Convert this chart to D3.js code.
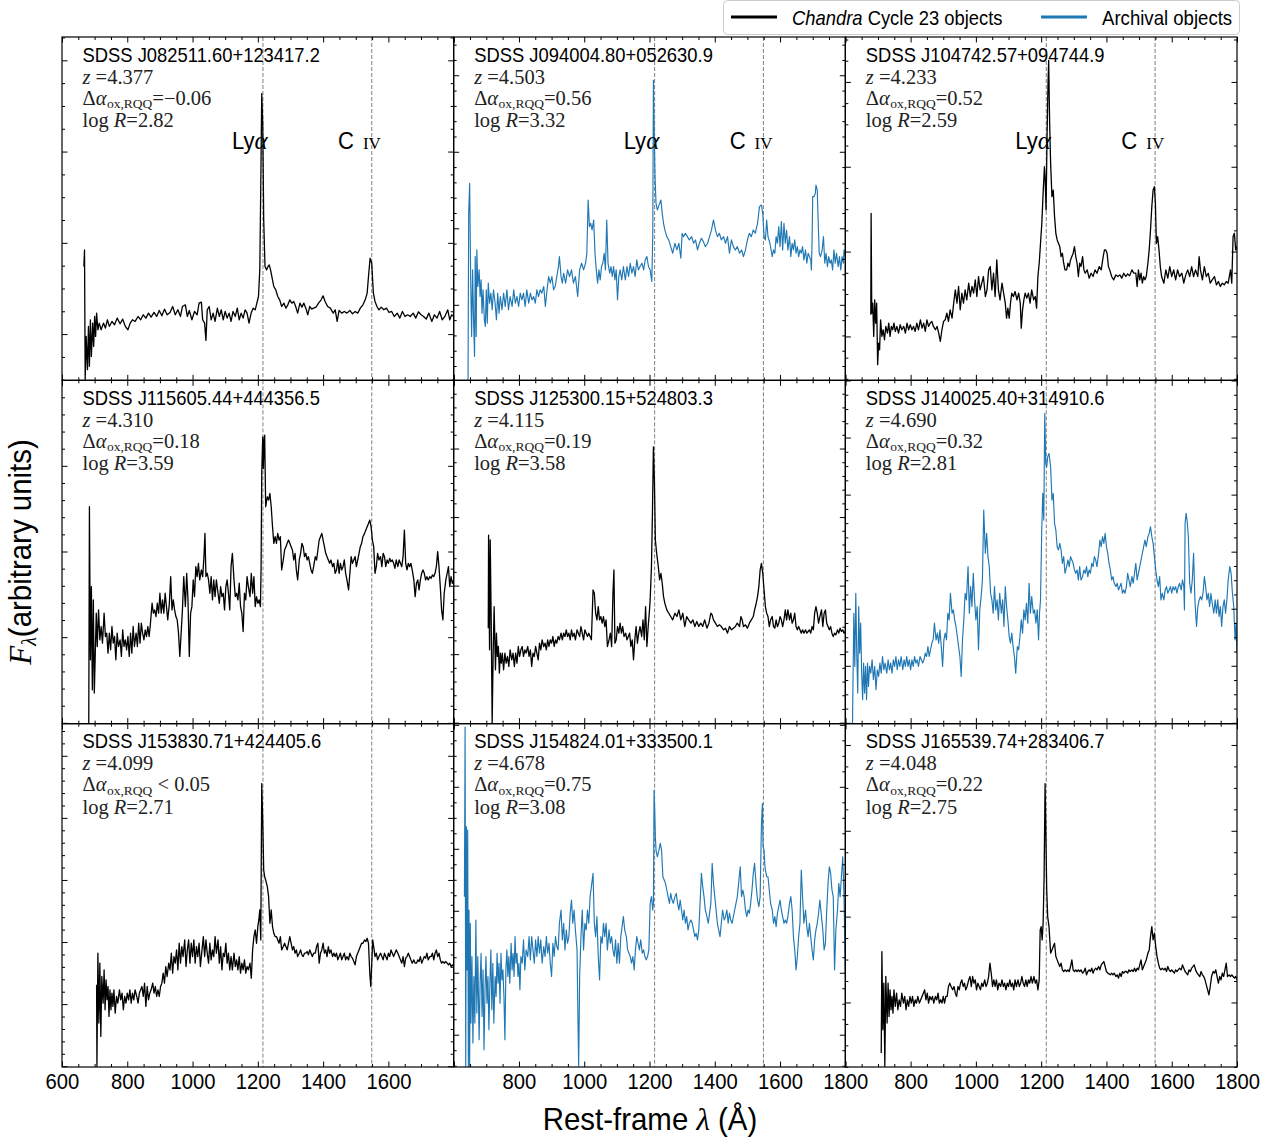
<!DOCTYPE html>
<html>
<head>
<meta charset="utf-8">
<script src="https://cdn.jsdelivr.net/npm/d3@7"></script>
<style>
  body { margin: 0; background: #fff; }
  text { white-space: pre; }
</style>
</head>
<body>
<svg id="chart" width="1279" height="1139"></svg>
<script>
// ---- Quasar sample: names and measured properties (panel order, row by row) ----
const objectNames = [
  "SDSS J082511.60+123417.2", "SDSS J094004.80+052630.9", "SDSS J104742.57+094744.9",
  "SDSS J115605.44+444356.5", "SDSS J125300.15+524803.3", "SDSS J140025.40+314910.6",
  "SDSS J153830.71+424405.6", "SDSS J154824.01+333500.1", "SDSS J165539.74+283406.7"
];
const redshifts = ["4.377", "4.503", "4.233", "4.310", "4.115", "4.690", "4.099", "4.678", "4.048"];
const deltaAlphaOx = ["=\u22120.06", "=0.56", "=0.52", "=0.18", "=0.19", "=0.32", " < 0.05", "=0.75", "=0.22"];
const logRadioLoudness = ["2.82", "3.32", "2.59", "3.59", "3.58", "2.81", "2.71", "3.08", "2.75"];
const isArchival = [false, true, false, false, false, true, false, true, false];

// emission lines marked in every panel (rest-frame Angstrom)
const lineWavelengths = [1215.67, 1549.06];

// axis ranges and tick labels
const lambdaRange = [600, 1800];
const fluxMax = 1032;
const xTickLabelsFirstCol = [600, 800, 1000, 1200, 1400, 1600];
const xTickLabelsOtherCols = [800, 1000, 1200, 1400, 1600, 1800];
// unlabelled flux ticks per panel: first major, major spacing, minor divisions
const yMajorStart = [139, 227, 132, 260, 209, 174, 189, 97, 194];
const yMajorStep = [274.3, 230, 255, 257.5, 206, 171.5, 186.6, 186.3, 258];
const yMinorPerMajor = [4, 5, 4, 5, 5, 4, 5, 4, 4];

// ---- Spectra: [rest-frame wavelength (A), F_lambda (arbitrary units)] ----
const specJ0825 = [[667,342],[669,392],[671,2],[674,132],[678,32],[681,162],[684,42],[687,182],[690,72],[694,172],[697,102],[700,192],[703,132],[706,202],[710,152],[714,172],[720,152],[727,172],[733,157],[739,182],[745,162],[753,177],[761,167],[769,187],[778,170],[786,184],[794,162],[802,152],[809,172],[816,182],[824,177],[833,192],[841,182],[849,197],[857,187],[865,202],[873,190],[882,204],[890,192],[898,210],[906,194],[914,214],[922,197],[931,204],[939,222],[947,197],[955,212],[963,192],[969,222],[978,227],[984,192],[990,210],[998,182],[1006,207],[1014,197],[1020,232],[1027,235],[1031,182],[1037,172],[1041,120],[1045,212],[1051,222],[1057,182],[1063,202],[1069,177],[1076,217],[1082,192],[1088,212],[1094,182],[1100,207],[1106,187],[1112,202],[1118,177],[1124,207],[1131,192],[1137,217],[1143,182],[1149,202],[1155,187],[1161,212],[1167,202],[1173,172],[1180,204],[1186,217],[1192,212],[1197,232],[1202,252],[1206,332],[1209,582],[1212,862],[1215,772],[1218,482],[1222,342],[1227,332],[1231,342],[1235,347],[1239,332],[1243,312],[1249,282],[1255,272],[1261,252],[1267,242],[1273,222],[1280,232],[1286,217],[1292,227],[1298,242],[1304,232],[1310,237],[1316,222],[1322,202],[1329,232],[1335,220],[1341,232],[1347,217],[1353,197],[1359,222],[1365,214],[1371,217],[1378,220],[1386,232],[1394,242],[1400,254],[1406,237],[1414,222],[1422,217],[1431,202],[1437,212],[1443,177],[1449,210],[1457,202],[1465,207],[1473,202],[1482,210],[1490,200],[1498,207],[1506,202],[1514,217],[1522,227],[1529,242],[1535,262],[1539,312],[1544,367],[1549,352],[1554,262],[1559,237],[1565,222],[1571,212],[1578,220],[1586,212],[1594,217],[1602,204],[1610,207],[1618,192],[1627,202],[1635,187],[1643,207],[1651,192],[1659,197],[1667,192],[1676,202],[1684,187],[1692,206],[1700,197],[1708,192],[1716,184],[1724,202],[1733,177],[1741,197],[1749,187],[1757,207],[1765,182],[1773,192],[1782,212],[1788,182],[1794,197],[1800,192]];

const specJ0940 = [[644,2],[646,502],[649,592],[652,312],[655,132],[658,332],[661,182],[664,72],[666,372],[669,132],[671,392],[674,282],[678,332],[681,252],[684,302],[687,202],[690,272],[694,182],[697,162],[700,272],[703,172],[706,292],[710,232],[714,262],[718,212],[722,272],[727,232],[731,182],[735,262],[739,202],[743,252],[748,212],[753,262],[758,222],[763,272],[768,212],[773,252],[779,222],[784,272],[789,232],[794,252],[799,222],[804,262],[809,242],[814,262],[819,222],[824,272],[830,232],[835,262],[840,242],[845,252],[850,232],[855,272],[860,252],[865,272],[870,262],[876,282],[881,222],[886,272],[891,312],[896,292],[901,312],[906,272],[911,282],[916,312],[921,342],[924,372],[929,312],[933,292],[937,322],[943,292],[949,332],[955,312],[961,332],[967,292],[973,312],[980,252],[986,332],[992,352],[998,332],[1004,352],[1008,382],[1012,542],[1016,462],[1020,472],[1024,452],[1029,482],[1033,382],[1037,332],[1041,292],[1045,332],[1049,302],[1053,342],[1057,352],[1061,382],[1065,332],[1069,482],[1073,352],[1078,322],[1082,342],[1086,312],[1090,342],[1094,302],[1098,332],[1102,242],[1106,312],[1110,332],[1115,302],[1120,342],[1126,302],[1131,342],[1136,312],[1141,352],[1146,322],[1151,342],[1156,312],[1161,362],[1166,332],[1171,342],[1177,352],[1182,332],[1187,362],[1192,372],[1197,342],[1202,332],[1207,297],[1210,432],[1212,902],[1214,772],[1217,612],[1220,532],[1224,512],[1231,532],[1235,542],[1239,502],[1243,472],[1247,452],[1253,432],[1259,422],[1265,402],[1271,382],[1278,412],[1284,392],[1290,412],[1296,367],[1300,442],[1304,432],[1310,442],[1316,432],[1322,422],[1329,432],[1335,412],[1341,422],[1347,392],[1353,412],[1359,427],[1365,417],[1371,402],[1378,412],[1384,432],[1390,452],[1396,482],[1402,452],[1408,432],[1414,442],[1420,422],[1427,432],[1433,412],[1439,432],[1445,382],[1451,422],[1457,402],[1463,392],[1469,402],[1476,382],[1482,392],[1488,372],[1494,392],[1500,422],[1506,442],[1512,432],[1518,452],[1524,442],[1531,472],[1537,522],[1543,527],[1547,502],[1551,432],[1555,422],[1559,482],[1563,432],[1569,412],[1576,372],[1580,392],[1584,382],[1588,432],[1592,412],[1596,462],[1600,402],[1604,477],[1608,392],[1612,472],[1616,412],[1620,452],[1624,392],[1629,432],[1633,372],[1637,412],[1641,392],[1645,422],[1649,382],[1653,402],[1657,372],[1661,392],[1665,382],[1669,402],[1673,362],[1678,392],[1682,352],[1686,382],[1690,372],[1694,362],[1696,332],[1698,412],[1700,552],[1704,552],[1708,562],[1710,587],[1714,572],[1716,502],[1720,382],[1724,372],[1729,392],[1733,432],[1737,352],[1741,382],[1745,342],[1749,372],[1753,352],[1757,362],[1761,332],[1765,392],[1769,352],[1773,382],[1778,342],[1782,372],[1786,332],[1790,372],[1794,352],[1796,392],[1800,372]];

const specJ1047 = [[678,197],[679,502],[681,202],[684,232],[687,132],[690,242],[693,172],[696,232],[699,47],[702,112],[705,92],[708,182],[712,132],[716,152],[720,122],[724,162],[729,142],[733,172],[737,132],[741,162],[745,152],[749,172],[753,147],[758,162],[763,142],[768,167],[773,152],[779,162],[784,142],[789,172],[794,152],[799,167],[804,152],[809,162],[814,147],[819,172],[824,152],[830,182],[835,157],[840,172],[845,147],[850,182],[855,162],[860,172],[865,177],[870,162],[876,152],[881,162],[886,142],[891,117],[896,152],[901,177],[906,182],[911,202],[916,177],[921,212],[927,187],[932,232],[937,272],[942,232],[947,282],[952,212],[957,262],[962,232],[967,272],[972,242],[978,292],[983,252],[988,282],[993,262],[998,302],[1003,252],[1008,312],[1013,272],[1018,292],[1023,312],[1029,252],[1034,272],[1039,332],[1044,342],[1049,272],[1054,322],[1059,252],[1064,362],[1069,272],[1074,242],[1080,292],[1085,262],[1090,232],[1094,187],[1098,217],[1102,187],[1106,232],[1110,262],[1115,252],[1120,267],[1126,242],[1131,262],[1136,232],[1139,157],[1143,212],[1147,242],[1151,262],[1156,247],[1161,262],[1166,232],[1171,272],[1177,242],[1182,252],[1186,217],[1190,312],[1194,352],[1198,412],[1202,472],[1206,562],[1210,642],[1212,612],[1215,512],[1218,732],[1221,892],[1223,962],[1226,772],[1229,652],[1233,552],[1237,572],[1241,492],[1245,442],[1249,422],[1253,412],[1257,402],[1261,372],[1265,382],[1269,352],[1273,332],[1278,332],[1282,352],[1286,342],[1290,362],[1294,372],[1298,382],[1302,402],[1306,372],[1310,352],[1314,312],[1318,352],[1322,342],[1327,372],[1331,332],[1335,322],[1341,332],[1347,307],[1353,322],[1359,312],[1365,332],[1371,322],[1378,342],[1384,332],[1390,372],[1394,392],[1398,392],[1402,382],[1406,342],[1410,332],[1416,312],[1422,302],[1429,317],[1435,312],[1441,317],[1447,307],[1453,322],[1459,312],[1465,320],[1471,314],[1478,332],[1484,322],[1490,322],[1494,282],[1498,332],[1502,302],[1506,322],[1510,292],[1514,312],[1518,302],[1522,312],[1527,352],[1531,392],[1535,452],[1539,522],[1543,572],[1547,582],[1550,532],[1553,412],[1557,432],[1561,392],[1565,342],[1569,312],[1576,292],[1582,332],[1588,307],[1594,342],[1600,312],[1606,332],[1612,302],[1618,332],[1624,312],[1631,322],[1637,292],[1643,317],[1649,332],[1655,312],[1661,342],[1667,312],[1673,332],[1680,312],[1684,372],[1688,332],[1694,302],[1700,342],[1706,312],[1712,322],[1718,292],[1724,302],[1731,312],[1737,287],[1743,297],[1749,282],[1755,292],[1761,287],[1767,297],[1773,292],[1780,332],[1784,292],[1788,432],[1792,442],[1796,392],[1800,402]];

const specJ1156 = [[682,2],[684,652],[687,192],[690,412],[693,102],[696,372],[699,92],[702,212],[705,332],[708,232],[712,342],[716,252],[720,292],[724,242],[729,332],[733,262],[737,272],[741,212],[745,272],[749,222],[753,292],[757,242],[761,262],[765,192],[769,272],[773,232],[778,252],[782,202],[786,282],[790,232],[794,252],[798,222],[802,262],[806,202],[810,272],[814,212],[818,292],[822,232],[827,272],[831,232],[835,302],[839,242],[843,302],[847,272],[851,252],[855,282],[859,262],[863,292],[867,262],[871,302],[876,362],[880,332],[884,342],[888,322],[892,362],[896,332],[900,392],[904,332],[908,372],[912,332],[916,392],[920,352],[924,312],[929,362],[933,442],[937,342],[941,372],[945,342],[949,322],[953,312],[957,272],[961,202],[965,272],[969,342],[973,442],[978,352],[982,452],[986,372],[990,202],[994,332],[998,352],[1002,432],[1006,382],[1010,472],[1014,442],[1018,482],[1022,432],[1027,462],[1031,442],[1035,502],[1038,572],[1041,442],[1045,452],[1049,432],[1053,392],[1057,442],[1061,372],[1065,432],[1069,382],[1073,432],[1078,392],[1082,362],[1086,412],[1090,382],[1094,392],[1098,342],[1102,412],[1106,432],[1110,392],[1114,342],[1118,472],[1122,512],[1127,432],[1131,382],[1135,392],[1139,372],[1143,422],[1147,352],[1151,332],[1155,277],[1159,392],[1163,372],[1167,442],[1171,412],[1176,382],[1180,452],[1184,392],[1188,442],[1192,352],[1196,382],[1200,362],[1204,372],[1208,352],[1210,472],[1212,752],[1215,862],[1217,767],[1219,852],[1221,867],[1224,652],[1229,682],[1233,672],[1237,692],[1241,652],[1245,592],[1249,542],[1253,562],[1257,542],[1261,572],[1265,552],[1269,562],[1273,462],[1278,492],[1282,522],[1286,532],[1290,542],[1294,552],[1298,542],[1302,532],[1306,522],[1310,492],[1314,512],[1318,462],[1322,432],[1327,492],[1331,512],[1335,542],[1339,532],[1343,502],[1347,512],[1351,492],[1355,502],[1359,482],[1363,462],[1367,452],[1371,472],[1376,502],[1380,492],[1384,522],[1388,552],[1392,562],[1396,572],[1400,552],[1404,532],[1408,512],[1412,502],[1416,492],[1420,482],[1424,492],[1429,472],[1433,482],[1437,452],[1441,462],[1445,492],[1449,452],[1453,482],[1457,462],[1461,472],[1465,492],[1469,452],[1473,432],[1478,402],[1482,452],[1486,502],[1490,482],[1494,492],[1498,502],[1502,472],[1506,492],[1510,512],[1514,532],[1518,542],[1522,562],[1527,572],[1531,582],[1535,592],[1539,602],[1543,612],[1547,592],[1551,552],[1555,532],[1559,452],[1563,472],[1567,512],[1571,492],[1576,502],[1580,472],[1584,512],[1588,502],[1592,472],[1596,492],[1600,482],[1604,497],[1608,487],[1612,492],[1616,482],[1620,467],[1624,492],[1629,472],[1633,492],[1637,482],[1641,472],[1645,502],[1649,582],[1653,482],[1657,462],[1661,482],[1665,472],[1669,482],[1673,462],[1678,432],[1682,382],[1686,422],[1690,432],[1694,402],[1698,432],[1702,452],[1706,462],[1710,452],[1714,432],[1718,442],[1722,432],[1727,442],[1731,437],[1735,447],[1739,442],[1743,452],[1747,472],[1751,517],[1755,472],[1759,412],[1763,342],[1767,312],[1771,392],[1776,432],[1780,452],[1784,472],[1788,412],[1792,442],[1796,422],[1800,432]];

const specJ1253 = [[706,287],[707,567],[710,222],[712,552],[715,312],[718,2],[721,212],[724,352],[728,162],[731,272],[734,202],[737,232],[740,152],[743,212],[746,182],[749,212],[753,162],[757,212],[761,182],[765,202],[769,172],[773,222],[778,192],[782,212],[786,172],[790,212],[794,182],[798,232],[802,202],[806,222],[810,232],[814,202],[818,222],[822,212],[827,232],[831,202],[835,222],[839,172],[843,212],[847,202],[851,232],[855,212],[859,192],[863,242],[867,222],[871,252],[876,232],[880,242],[884,222],[888,252],[892,232],[896,252],[900,242],[904,262],[908,232],[912,252],[916,242],[920,262],[924,252],[929,272],[933,252],[937,272],[941,262],[945,282],[949,262],[953,272],[957,252],[961,282],[965,262],[969,272],[973,252],[978,282],[982,272],[986,262],[990,292],[994,272],[998,252],[1002,282],[1006,272],[1010,262],[1014,272],[1018,262],[1022,252],[1027,402],[1031,392],[1035,332],[1039,312],[1043,352],[1047,312],[1051,322],[1055,302],[1059,322],[1063,292],[1067,312],[1071,232],[1076,252],[1080,272],[1084,232],[1088,392],[1091,462],[1094,242],[1098,252],[1102,292],[1106,272],[1110,302],[1114,272],[1118,292],[1122,262],[1127,272],[1131,252],[1135,262],[1139,272],[1143,232],[1147,252],[1151,192],[1155,252],[1159,292],[1163,242],[1167,272],[1171,292],[1176,262],[1180,312],[1184,252],[1188,352],[1192,232],[1196,292],[1200,342],[1202,372],[1206,472],[1209,632],[1212,832],[1215,732],[1218,552],[1222,512],[1227,472],[1231,432],[1235,452],[1239,422],[1243,382],[1247,362],[1253,342],[1259,332],[1265,322],[1271,312],[1278,332],[1284,322],[1290,342],[1296,312],[1302,332],[1308,292],[1314,322],[1320,312],[1327,302],[1333,312],[1339,292],[1345,307],[1351,292],[1357,302],[1363,292],[1369,312],[1376,287],[1382,302],[1388,332],[1392,327],[1396,312],[1402,302],[1408,292],[1414,297],[1420,292],[1427,282],[1433,287],[1439,272],[1445,292],[1451,282],[1457,287],[1463,292],[1469,302],[1476,292],[1480,322],[1484,312],[1488,292],[1494,297],[1500,287],[1506,302],[1512,312],[1518,322],[1522,342],[1527,362],[1531,382],[1535,412],[1539,462],[1543,482],[1547,452],[1551,402],[1555,352],[1559,332],[1563,322],[1567,292],[1571,312],[1576,322],[1580,292],[1584,287],[1588,312],[1592,292],[1596,302],[1600,322],[1604,312],[1608,292],[1612,312],[1616,342],[1620,312],[1624,342],[1629,312],[1633,332],[1637,302],[1641,312],[1645,332],[1649,292],[1653,282],[1657,292],[1661,282],[1665,272],[1669,282],[1673,272],[1678,282],[1682,272],[1686,277],[1690,282],[1694,272],[1698,292],[1702,282],[1706,332],[1710,352],[1714,332],[1718,302],[1722,322],[1727,342],[1731,292],[1735,332],[1739,342],[1743,302],[1747,292],[1751,282],[1755,292],[1759,272],[1763,262],[1767,272],[1771,267],[1776,282],[1780,272],[1784,287],[1788,277],[1792,282],[1796,272],[1800,277]];

const specJ1400 = [[622,2],[626,332],[629,172],[632,392],[635,212],[638,92],[641,352],[644,212],[647,302],[650,152],[653,72],[656,182],[659,92],[662,172],[665,72],[668,182],[671,112],[674,172],[678,152],[682,192],[686,132],[690,172],[694,102],[698,162],[702,142],[706,182],[710,152],[714,202],[718,162],[722,182],[727,152],[731,192],[735,162],[739,182],[743,152],[747,192],[751,172],[755,202],[759,162],[763,192],[767,172],[771,202],[776,162],[780,192],[784,172],[788,202],[792,172],[796,192],[800,162],[804,192],[808,172],[812,202],[816,182],[820,192],[824,172],[829,202],[833,192],[837,182],[841,192],[845,212],[849,202],[853,232],[857,202],[861,222],[865,242],[869,252],[873,302],[878,252],[882,272],[886,242],[890,282],[894,232],[898,172],[902,252],[906,272],[910,252],[914,332],[918,312],[922,392],[927,332],[931,342],[935,312],[939,292],[943,262],[947,232],[951,202],[955,142],[959,252],[963,312],[967,392],[971,372],[976,472],[980,332],[984,412],[988,352],[992,452],[996,372],[1000,312],[1004,352],[1008,222],[1012,342],[1016,382],[1020,432],[1024,642],[1029,512],[1033,572],[1037,502],[1041,472],[1045,392],[1049,372],[1053,332],[1057,412],[1061,342],[1065,372],[1069,312],[1073,392],[1078,332],[1082,372],[1086,292],[1090,412],[1094,352],[1098,312],[1102,262],[1106,242],[1110,272],[1114,232],[1118,202],[1122,152],[1127,232],[1131,222],[1135,262],[1139,312],[1143,272],[1147,342],[1151,312],[1155,362],[1159,302],[1163,422],[1167,332],[1171,382],[1176,332],[1180,342],[1184,302],[1188,342],[1192,252],[1195,332],[1198,372],[1202,592],[1205,692],[1208,612],[1211,932],[1214,782],[1217,772],[1220,802],[1224,812],[1229,772],[1233,672],[1237,692],[1241,602],[1245,582],[1249,532],[1253,522],[1257,542],[1261,522],[1265,482],[1269,502],[1273,452],[1278,472],[1282,492],[1286,472],[1290,502],[1294,492],[1298,482],[1302,462],[1306,452],[1310,462],[1314,432],[1318,472],[1322,432],[1327,442],[1331,462],[1335,452],[1339,472],[1343,442],[1347,462],[1351,452],[1355,482],[1359,472],[1363,502],[1367,492],[1371,472],[1376,512],[1380,552],[1384,532],[1388,562],[1392,542],[1396,572],[1400,532],[1404,512],[1408,482],[1412,462],[1416,432],[1420,442],[1424,422],[1429,412],[1433,422],[1437,402],[1441,412],[1445,422],[1449,392],[1453,402],[1457,392],[1461,412],[1465,452],[1469,432],[1473,412],[1478,442],[1482,422],[1486,452],[1490,482],[1494,432],[1498,452],[1502,472],[1506,492],[1510,512],[1514,532],[1518,552],[1522,532],[1527,562],[1531,572],[1535,592],[1539,562],[1543,542],[1547,502],[1551,462],[1555,432],[1559,412],[1563,442],[1567,372],[1571,392],[1576,372],[1580,402],[1584,412],[1588,392],[1592,402],[1596,412],[1600,392],[1604,412],[1608,402],[1612,412],[1616,392],[1620,412],[1624,422],[1629,402],[1633,432],[1637,412],[1639,342],[1641,602],[1644,632],[1647,612],[1651,562],[1655,422],[1659,392],[1663,432],[1667,512],[1671,372],[1676,292],[1680,352],[1684,372],[1688,382],[1692,372],[1696,392],[1700,442],[1704,412],[1708,372],[1712,392],[1716,352],[1720,392],[1724,362],[1729,332],[1733,372],[1737,332],[1741,372],[1745,322],[1749,352],[1753,292],[1757,352],[1761,372],[1765,332],[1769,372],[1773,432],[1778,472],[1782,452],[1786,392],[1790,352],[1794,252],[1797,302],[1800,212]];

const specJ1538 = [[706,247],[707,2],[710,342],[713,132],[716,312],[719,92],[722,272],[726,192],[729,292],[732,172],[735,262],[738,202],[741,242],[744,152],[747,232],[750,172],[753,222],[756,182],[759,232],[763,162],[767,212],[771,192],[776,232],[780,202],[784,222],[788,172],[792,212],[796,192],[800,222],[804,202],[808,232],[812,192],[816,222],[820,202],[824,232],[829,212],[833,192],[837,222],[841,232],[845,242],[849,212],[853,252],[857,182],[861,242],[865,202],[869,222],[873,232],[878,252],[882,222],[886,242],[890,212],[894,232],[898,212],[902,242],[906,252],[910,282],[914,252],[918,302],[922,272],[927,312],[931,292],[935,342],[939,282],[943,332],[947,312],[951,352],[955,292],[959,372],[963,312],[967,362],[971,332],[976,382],[980,302],[984,352],[988,382],[992,312],[996,372],[1000,332],[1004,382],[1008,312],[1012,362],[1016,332],[1020,372],[1024,302],[1029,352],[1033,392],[1037,332],[1041,382],[1045,342],[1049,312],[1053,372],[1057,322],[1061,352],[1065,332],[1069,392],[1073,342],[1078,382],[1082,312],[1086,362],[1090,292],[1094,342],[1098,332],[1102,372],[1106,312],[1110,342],[1114,292],[1118,332],[1122,292],[1127,342],[1131,302],[1135,322],[1139,292],[1143,332],[1147,282],[1151,312],[1155,292],[1159,322],[1163,282],[1167,302],[1171,292],[1176,312],[1180,267],[1184,352],[1188,392],[1192,412],[1196,372],[1200,422],[1203,442],[1206,472],[1209,382],[1212,852],[1215,742],[1218,592],[1221,572],[1224,562],[1229,542],[1233,512],[1237,432],[1241,472],[1245,422],[1249,402],[1253,392],[1257,392],[1261,382],[1265,372],[1269,392],[1273,352],[1278,362],[1282,372],[1286,362],[1290,352],[1294,372],[1298,392],[1302,372],[1306,352],[1310,362],[1314,342],[1318,352],[1322,332],[1327,342],[1331,352],[1335,337],[1339,332],[1343,342],[1347,342],[1351,347],[1355,337],[1359,352],[1363,342],[1367,332],[1371,342],[1376,342],[1380,362],[1384,372],[1388,312],[1392,342],[1396,352],[1400,372],[1404,342],[1408,352],[1412,332],[1416,362],[1420,342],[1424,352],[1429,332],[1433,342],[1437,332],[1441,342],[1445,322],[1449,332],[1453,342],[1457,322],[1461,332],[1465,342],[1469,322],[1473,332],[1478,322],[1482,342],[1486,332],[1490,327],[1494,317],[1498,307],[1502,332],[1506,342],[1510,352],[1514,362],[1518,372],[1522,372],[1527,382],[1531,377],[1535,387],[1539,372],[1543,282],[1546,242],[1549,312],[1552,382],[1555,362],[1559,332],[1563,342],[1567,322],[1571,332],[1576,342],[1580,332],[1584,322],[1588,342],[1592,332],[1596,322],[1600,342],[1604,332],[1608,352],[1612,342],[1616,332],[1620,342],[1624,352],[1629,342],[1633,332],[1637,322],[1641,312],[1645,332],[1649,302],[1653,327],[1657,332],[1661,342],[1665,332],[1669,322],[1673,312],[1678,322],[1682,312],[1686,312],[1690,322],[1694,317],[1698,332],[1702,312],[1706,322],[1710,332],[1714,327],[1718,342],[1722,322],[1727,332],[1731,332],[1735,342],[1739,322],[1743,342],[1747,352],[1751,332],[1755,342],[1759,322],[1763,312],[1767,317],[1771,312],[1776,317],[1780,312],[1784,307],[1788,312],[1792,302],[1796,307],[1800,302]];

const specJ1548 = [[633,512],[635,1022],[637,2],[639,722],[641,292],[643,712],[645,2],[647,472],[649,2],[651,432],[653,132],[656,332],[659,72],[662,272],[665,132],[668,442],[671,162],[674,332],[678,82],[681,252],[684,342],[687,152],[690,292],[693,52],[696,232],[699,332],[702,192],[705,272],[708,112],[711,252],[714,352],[717,172],[720,312],[723,132],[727,272],[730,212],[733,342],[736,252],[739,312],[742,192],[745,342],[748,262],[751,292],[754,212],[757,82],[760,292],[763,352],[766,272],[769,332],[772,252],[776,372],[779,292],[782,342],[785,272],[788,392],[791,312],[794,342],[797,272],[800,312],[803,232],[806,332],[810,312],[814,382],[818,292],[822,352],[827,332],[831,392],[835,322],[839,392],[843,352],[847,312],[851,382],[855,332],[859,392],[863,342],[867,382],[871,312],[876,362],[880,332],[884,392],[888,342],[892,372],[896,312],[900,272],[904,372],[908,332],[912,392],[916,362],[920,352],[924,432],[929,472],[933,382],[937,432],[941,352],[945,412],[949,372],[953,392],[957,462],[961,502],[965,432],[969,472],[973,412],[978,352],[981,132],[983,2],[986,272],[990,392],[994,472],[998,352],[1002,432],[1006,412],[1010,472],[1014,432],[1018,512],[1022,542],[1027,582],[1031,432],[1035,392],[1039,452],[1043,332],[1047,262],[1051,392],[1055,372],[1059,432],[1063,392],[1067,432],[1071,352],[1076,412],[1080,372],[1084,392],[1088,352],[1092,332],[1096,382],[1100,312],[1104,372],[1108,312],[1112,392],[1116,422],[1120,452],[1124,412],[1129,392],[1133,352],[1137,342],[1141,332],[1145,312],[1149,332],[1153,292],[1157,352],[1161,392],[1165,372],[1169,352],[1173,382],[1178,342],[1182,352],[1186,332],[1190,322],[1194,332],[1198,352],[1202,492],[1206,512],[1210,472],[1212,492],[1214,832],[1216,772],[1218,692],[1220,652],[1224,632],[1229,652],[1233,672],[1237,652],[1241,572],[1245,562],[1249,552],[1253,532],[1257,512],[1261,492],[1265,522],[1269,502],[1273,492],[1278,512],[1282,522],[1286,492],[1290,472],[1294,502],[1298,472],[1302,442],[1306,472],[1310,432],[1314,452],[1318,412],[1322,432],[1327,442],[1331,432],[1335,412],[1339,392],[1343,402],[1347,382],[1351,412],[1355,492],[1359,582],[1363,542],[1367,512],[1371,472],[1376,452],[1380,432],[1384,462],[1388,492],[1392,612],[1396,552],[1400,512],[1404,472],[1408,432],[1412,412],[1416,392],[1420,432],[1424,472],[1429,442],[1433,452],[1437,472],[1441,432],[1445,462],[1449,442],[1453,432],[1457,452],[1461,472],[1465,492],[1469,512],[1473,552],[1478,602],[1482,512],[1486,532],[1490,512],[1494,472],[1498,452],[1502,472],[1506,462],[1510,492],[1514,532],[1518,582],[1522,612],[1527,542],[1531,502],[1535,482],[1539,512],[1543,732],[1546,792],[1548,662],[1551,652],[1553,612],[1555,592],[1559,572],[1563,572],[1567,532],[1571,492],[1576,472],[1580,432],[1584,452],[1588,422],[1592,462],[1596,482],[1600,502],[1604,472],[1608,452],[1612,432],[1616,442],[1620,432],[1624,452],[1629,492],[1633,512],[1637,472],[1641,392],[1645,352],[1649,292],[1653,332],[1657,392],[1661,432],[1665,592],[1669,512],[1673,432],[1678,472],[1682,422],[1686,392],[1690,432],[1694,392],[1698,352],[1702,322],[1706,382],[1710,412],[1714,432],[1718,462],[1722,502],[1727,452],[1731,412],[1735,352],[1739,372],[1743,472],[1747,552],[1751,602],[1755,582],[1759,532],[1763,512],[1767,292],[1771,412],[1776,472],[1780,552],[1784,512],[1788,572],[1792,632],[1796,512],[1800,282]];

const specJ1655 = [[710,42],[712,347],[715,112],[718,252],[721,2],[724,272],[728,132],[731,252],[734,152],[737,232],[740,172],[743,212],[746,162],[749,232],[753,182],[757,222],[761,172],[765,202],[769,182],[773,222],[778,192],[782,212],[786,172],[790,202],[794,182],[798,212],[802,192],[806,212],[810,182],[814,202],[818,192],[822,212],[827,192],[831,202],[835,212],[839,222],[843,232],[847,202],[851,222],[855,192],[859,212],[863,202],[867,212],[871,192],[876,212],[880,202],[884,222],[888,192],[892,202],[896,192],[900,212],[904,192],[908,212],[912,212],[916,242],[920,252],[924,242],[929,232],[933,242],[937,222],[941,212],[945,242],[949,232],[953,252],[957,262],[961,242],[965,252],[969,232],[973,242],[978,262],[982,272],[986,242],[990,272],[994,252],[998,262],[1002,232],[1006,252],[1010,242],[1014,232],[1018,252],[1022,242],[1027,262],[1031,242],[1035,252],[1039,272],[1043,312],[1047,282],[1051,242],[1055,262],[1059,242],[1063,262],[1067,232],[1071,252],[1076,242],[1080,262],[1084,242],[1088,252],[1092,232],[1096,252],[1100,242],[1104,262],[1108,242],[1112,252],[1116,232],[1120,262],[1124,242],[1129,262],[1133,242],[1137,252],[1141,272],[1145,252],[1149,242],[1153,262],[1157,242],[1161,262],[1165,252],[1169,272],[1173,252],[1178,272],[1182,252],[1186,262],[1190,232],[1194,262],[1197,412],[1200,422],[1203,382],[1206,432],[1209,572],[1212,852],[1214,732],[1217,532],[1220,452],[1224,422],[1229,342],[1233,352],[1237,362],[1241,372],[1245,332],[1249,322],[1253,312],[1257,302],[1261,312],[1265,292],[1269,287],[1273,292],[1278,287],[1282,292],[1286,287],[1290,302],[1294,322],[1298,292],[1302,287],[1306,292],[1310,287],[1314,292],[1318,287],[1322,292],[1327,282],[1331,287],[1335,297],[1339,277],[1343,287],[1347,292],[1351,287],[1355,297],[1359,282],[1363,292],[1367,297],[1371,292],[1376,302],[1380,292],[1384,307],[1388,312],[1392,317],[1396,302],[1400,287],[1404,282],[1408,280],[1412,277],[1416,282],[1420,277],[1424,282],[1429,272],[1433,277],[1437,267],[1441,282],[1445,272],[1449,287],[1453,282],[1457,287],[1461,287],[1465,282],[1469,292],[1473,287],[1478,292],[1482,287],[1486,297],[1490,287],[1494,297],[1498,292],[1502,307],[1506,322],[1510,292],[1514,302],[1518,312],[1522,322],[1527,342],[1531,352],[1535,392],[1539,422],[1543,382],[1547,402],[1551,362],[1555,332],[1559,312],[1563,297],[1567,292],[1571,297],[1576,292],[1580,297],[1584,287],[1588,302],[1592,292],[1596,287],[1600,292],[1604,287],[1608,282],[1612,292],[1616,287],[1620,292],[1624,297],[1629,292],[1633,307],[1637,297],[1641,287],[1645,282],[1649,277],[1653,292],[1657,287],[1661,297],[1665,302],[1669,307],[1673,292],[1678,282],[1682,277],[1686,272],[1690,287],[1694,277],[1698,272],[1702,262],[1706,247],[1710,232],[1714,217],[1718,242],[1722,272],[1727,287],[1731,282],[1735,292],[1739,272],[1743,252],[1747,272],[1751,262],[1755,282],[1759,272],[1763,292],[1767,312],[1771,272],[1776,277],[1780,272],[1784,277],[1788,272],[1792,267],[1796,272],[1800,262]];

const spectra = [specJ0825, specJ0940, specJ1047, specJ1156, specJ1253, specJ1400, specJ1538, specJ1548, specJ1655];

// ---- Layout ----
const svg = d3.select("#chart");
const plotLeft = 62, plotTop = 37, plotRight = 1237, plotBottom = 1067;
const pw = (plotRight - plotLeft) / 3, ph = (plotBottom - plotTop) / 3;
const SANS = "'Liberation Sans', Arial, sans-serif";
const SERIF = "'Liberation Serif', 'Times New Roman', serif";
const SANS_SX = 0.92;
const colorChandra = "#000000", colorArchival = "#1f77b4";

const x = d3.scaleLinear().domain(lambdaRange).range([0, pw]);
const y = d3.scaleLinear().domain([0, fluxMax]).range([ph, 0]);
const line = d3.line().x(d => x(d[0])).y(d => y(d[1]));

svg.append("rect").attr("width", 1279).attr("height", 1139).attr("fill", "#fff");
svg.append("defs").append("clipPath").attr("id", "panelClip")
  .append("rect").attr("width", pw).attr("height", ph);

// lay out a sequence of styled text runs starting at (x0, y0)
function textRuns(parent, x0, y0, runs, anchor) {
  const outer = parent.append("g").attr("transform", `translate(${x0},${y0})`);
  const g = outer.append("g");
  let cx = 0;
  runs.forEach(r => {
    const sx = r.sx || 1;
    const t = g.append("text")
      .attr("transform", `translate(${cx},${r.dy || 0}) scale(${sx},1)`)
      .attr("font-family", r.font)
      .attr("font-size", r.size)
      .attr("font-style", r.italic ? "italic" : "normal")
      .attr("fill", r.fill || "#000")
      .text(r.text);
    cx += t.node().getComputedTextLength() * sx + (r.gap || 0);
  });
  if (anchor === "middle") g.attr("transform", `translate(${-cx / 2},0)`);
  return outer;
}

function yTicks(i) {
  const step = yMajorStep[i], base = yMajorStart[i], n = yMinorPerMajor[i];
  const major = [], minor = [];
  for (let k = Math.ceil(-base / step); base + k * step <= fluxMax; k++) {
    const v = base + k * step;
    if (v >= 0) major.push(v);
    for (let j = 1; j < n; j++) {
      const m = v + j * step / n;
      if (m >= 0 && m <= fluxMax) minor.push(m);
    }
  }
  for (let j = 1; j < n; j++) {
    const m = major[0] - j * step / n;
    if (m >= 0) minor.push(m);
  }
  return { major, minor };
}

const xMajor = d3.range(600, 1801, 200);
const xMinor = d3.range(600, 1801, 50).filter(v => v % 200 !== 0);
const MAJ = 5.5, MIN = 3;

function styleAxis(sel) {
  sel.select(".domain").remove();
  sel.selectAll(".tick line").attr("stroke", "#000").attr("stroke-width", 1);
}

spectra.forEach((spec, i) => {
  const row = Math.floor(i / 3), col = i % 3;
  const g = svg.append("g").attr("transform", `translate(${plotLeft + col * pw},${plotTop + row * ph})`);

  // rest-frame positions of Ly-alpha and C IV
  g.selectAll("line.emline").data(lineWavelengths).join("line")
    .attr("class", "emline")
    .attr("x1", d => x(d)).attr("x2", d => x(d))
    .attr("y1", 0).attr("y2", ph)
    .attr("stroke", "#7f7f7f").attr("stroke-width", 1)
    .attr("stroke-dasharray", "4,2");

  g.append("path")
    .attr("clip-path", "url(#panelClip)")
    .attr("d", line(spec))
    .attr("fill", "none")
    .attr("stroke", isArchival[i] ? colorArchival : colorChandra)
    .attr("stroke-width", isArchival[i] ? 1.15 : 1.3)
    .attr("stroke-linejoin", "round");

  // ticks pointing inward on all four sides
  const labels = col === 0 ? xTickLabelsFirstCol : xTickLabelsOtherCols;
  const bottomAxis = g.append("g").attr("transform", `translate(0,${ph})`)
    .call(d3.axisBottom(x).tickValues(xMajor).tickSizeInner(-MAJ).tickSizeOuter(0).tickPadding(6)
      .tickFormat(d => (row === 2 && labels.includes(d)) ? String(d) : ""));
  styleAxis(bottomAxis);
  bottomAxis.selectAll(".tick text")
    .attr("font-family", SANS).attr("font-size", 22).attr("fill", "#000")
    .attr("transform", `scale(${SANS_SX},1)`);
  styleAxis(g.append("g").attr("transform", `translate(0,${ph})`)
    .call(d3.axisBottom(x).tickValues(xMinor).tickSizeInner(-MIN).tickSizeOuter(0).tickFormat("")));
  styleAxis(g.append("g")
    .call(d3.axisTop(x).tickValues(xMajor).tickSizeInner(-MAJ).tickSizeOuter(0).tickFormat("")));
  styleAxis(g.append("g")
    .call(d3.axisTop(x).tickValues(xMinor).tickSizeInner(-MIN).tickSizeOuter(0).tickFormat("")));

  const yt = yTicks(i);
  styleAxis(g.append("g").call(d3.axisLeft(y).tickValues(yt.major).tickSizeInner(-MAJ).tickSizeOuter(0).tickFormat("")));
  styleAxis(g.append("g").call(d3.axisLeft(y).tickValues(yt.minor).tickSizeInner(-MIN).tickSizeOuter(0).tickFormat("")));
  styleAxis(g.append("g").attr("transform", `translate(${pw},0)`)
    .call(d3.axisRight(y).tickValues(yt.major).tickSizeInner(-MAJ).tickSizeOuter(0).tickFormat("")));
  styleAxis(g.append("g").attr("transform", `translate(${pw},0)`)
    .call(d3.axisRight(y).tickValues(yt.minor).tickSizeInner(-MIN).tickSizeOuter(0).tickFormat("")));

  g.append("rect").attr("width", pw).attr("height", ph)
    .attr("fill", "none").attr("stroke", "#000").attr("stroke-width", 1.2);

  // object annotations
  const tx = 20.5;
  const ink = "#222";
  textRuns(g, tx, 24.5, [{ text: objectNames[i], font: SANS, size: 20, sx: SANS_SX }]);
  textRuns(g, tx, 46.5, [
    { text: "z", font: SERIF, size: 20.5, italic: true, fill: ink },
    { text: " =" + redshifts[i], font: SERIF, size: 20.5, fill: ink }
  ]);
  textRuns(g, tx, 67.5, [
    { text: "\u0394", font: SERIF, size: 20.5, fill: ink },
    { text: "\u03b1", font: SERIF, size: 20.5, italic: true, fill: ink, gap: 0.5 },
    { text: "ox,RQQ", font: SERIF, size: 13.5, dy: 3.5, fill: ink },
    { text: deltaAlphaOx[i], font: SERIF, size: 20.5, fill: ink }
  ]);
  textRuns(g, tx, 90, [
    { text: "log ", font: SERIF, size: 20.5, fill: ink },
    { text: "R", font: SERIF, size: 20.5, italic: true, fill: ink },
    { text: "=" + logRadioLoudness[i], font: SERIF, size: 20.5, fill: ink }
  ]);

  if (row === 0) {
    textRuns(g, 170, 111.5, [
      { text: "Ly", font: SANS, size: 24, sx: SANS_SX },
      { text: "\u03b1", font: SERIF, size: 25, italic: true }
    ]);
    textRuns(g, 276, 111.5, [
      { text: "C", font: SANS, size: 24, sx: SANS_SX, gap: 9 },
      { text: "IV", font: SERIF, size: 17 }
    ]);
  }
});

// ---- Axis titles ----
textRuns(svg, 650, 1130, [
  { text: "Rest-frame ", font: SANS, size: 31, sx: 0.95 },
  { text: "\u03bb", font: SERIF, size: 31, italic: true },
  { text: " (\u00c5)", font: SANS, size: 31, sx: 0.95 }
], "middle");

const yTitle = svg.append("g").attr("transform", "translate(31,552) rotate(-90)");
textRuns(yTitle, 0, 0, [
  { text: "F", font: SERIF, size: 31, italic: true },
  { text: "\u03bb", font: SERIF, size: 20, italic: true, dy: 5 },
  { text: "(arbitrary units)", font: SANS, size: 31, sx: 0.95 }
], "middle");

// ---- Legend ----
const legend = svg.append("g");
legend.append("rect").attr("x", 723.5).attr("y", 0.5).attr("width", 516).attr("height", 34)
  .attr("rx", 4).attr("fill", "#fff").attr("stroke", "#cccccc").attr("stroke-width", 1);
const legendItems = [
  { color: colorChandra, x: 731, runs: [
    { text: "Chandra", font: SANS, size: 20, italic: true, sx: 0.92 },
    { text: " Cycle 23 objects", font: SANS, size: 20, sx: 0.92 }] },
  { color: colorArchival, x: 1041, runs: [
    { text: "Archival objects", font: SANS, size: 20, sx: 0.93 }] }
];
legendItems.forEach(it => {
  legend.append("line").attr("x1", it.x).attr("x2", it.x + 46).attr("y1", 17).attr("y2", 17)
    .attr("stroke", it.color).attr("stroke-width", 3.2);
  textRuns(legend, it.x + 61, 24.5, it.runs);
});
</script>
</body>
</html>
